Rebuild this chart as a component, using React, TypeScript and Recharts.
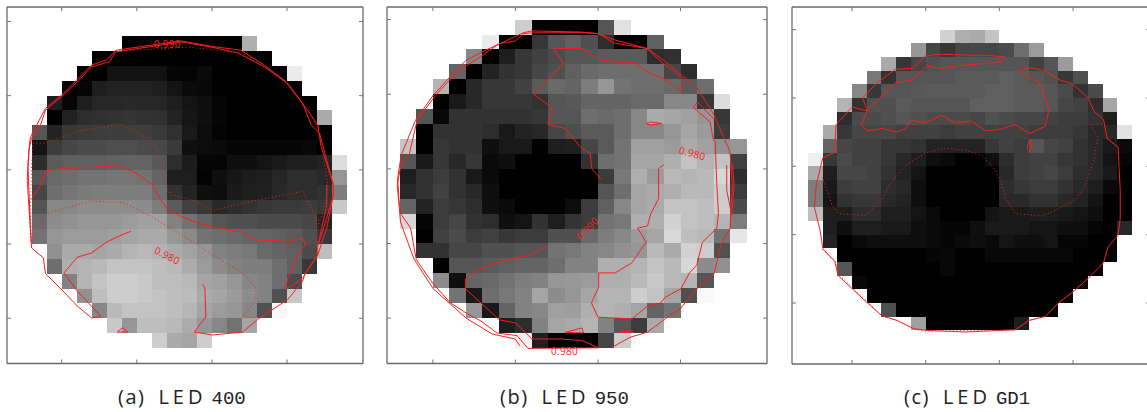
import React from 'react';
import { ScatterChart, Scatter, XAxis, YAxis } from 'recharts';

type Pt = number[];

// gray level per wafer site, row by row, with the first occupied column of each row
const LED400_START = [6, 4, 3, 2, 1, 1, 0, 0, 0, 0, 0, 0, 0, 0, 1, 1, 2, 3, 4, 5, 8];
const LED400_GRAY = [
  [0, 0, 0, 0, 0, 0, 0, 0, 175],
  [0, 0, 0, 0, 0, 0, 0, 0, 0, 0, 0, 0],
  [0, 0, 18, 18, 18, 18, 5, 3, 10, 0, 0, 0, 0, 0, 235],
  [0, 5, 30, 35, 35, 35, 30, 20, 10, 8, 0, 0, 0, 0, 0, 0],
  [30, 5, 30, 38, 38, 40, 40, 38, 30, 20, 15, 5, 0, 0, 0, 0, 0, 0],
  [0, 33, 45, 48, 50, 52, 50, 48, 35, 22, 15, 5, 0, 0, 0, 0, 0, 0, 170],
  [85, 35, 55, 58, 60, 62, 62, 62, 58, 48, 25, 12, 3, 0, 0, 0, 0, 0, 0, 0],
  [20, 60, 70, 75, 75, 78, 78, 75, 72, 58, 15, 12, 10, 5, 5, 5, 5, 5, 8, 0],
  [45, 90, 95, 95, 95, 98, 100, 98, 88, 45, 28, 5, 5, 15, 15, 20, 25, 30, 30, 35, 220],
  [85, 105, 110, 115, 115, 118, 118, 115, 100, 30, 30, 3, 15, 22, 28, 30, 38, 45, 45, 40, 150],
  [70, 110, 118, 122, 125, 125, 125, 125, 110, 50, 35, 15, 12, 25, 30, 32, 40, 45, 45, 50, 125],
  [85, 135, 135, 140, 140, 140, 140, 140, 125, 90, 65, 55, 40, 45, 50, 55, 58, 58, 60, 55, 200],
  [105, 140, 145, 150, 150, 150, 155, 160, 160, 130, 115, 100, 85, 80, 80, 75, 75, 75, 70, 35],
  [115, 150, 155, 155, 155, 160, 165, 170, 170, 150, 138, 115, 110, 105, 100, 100, 95, 90, 80, 55],
  [145, 170, 170, 165, 170, 180, 185, 180, 170, 162, 150, 130, 125, 120, 105, 100, 95, 75, 190],
  [110, 175, 180, 185, 195, 195, 195, 190, 185, 172, 155, 140, 130, 125, 125, 110, 95, 55],
  [130, 180, 195, 205, 205, 200, 190, 190, 185, 165, 160, 150, 135, 130, 110, 75],
  [145, 190, 205, 205, 200, 195, 190, 188, 170, 165, 155, 140, 130, 80, 200],
  [135, 185, 195, 195, 195, 190, 182, 165, 155, 150, 135, 80, 248],
  [200, 150, 190, 190, 185, 172, 150, 135, 115, 165],
  [205, 170, 165, 205],
];

const LED950_START = [7, 5, 4, 3, 2, 2, 1, 1, 0, 0, 0, 0, 0, 0, 1, 1, 2, 2, 3, 4, 6, 7];
const LED950_GRAY = [
  [205, 0, 0, 0, 0, 85, 225],
  [235, 0, 0, 55, 85, 95, 80, 45, 0, 0, 95],
  [135, 0, 30, 55, 65, 75, 85, 85, 90, 90, 90, 45, 48],
  [100, 0, 35, 50, 55, 70, 80, 95, 105, 110, 110, 110, 110, 70, 45],
  [180, 0, 40, 55, 55, 65, 90, 105, 100, 125, 150, 115, 110, 110, 105, 90, 110],
  [0, 25, 40, 55, 55, 55, 50, 85, 88, 100, 100, 100, 105, 105, 135, 135, 55, 220],
  [85, 8, 50, 50, 50, 50, 50, 55, 85, 85, 110, 105, 110, 135, 170, 165, 160, 150, 55],
  [0, 50, 50, 50, 45, 25, 35, 40, 70, 78, 90, 90, 110, 135, 135, 150, 165, 155, 60],
  [195, 0, 55, 50, 50, 15, 25, 25, 0, 30, 32, 70, 90, 115, 160, 160, 155, 170, 160, 145, 150],
  [85, 25, 55, 40, 55, 10, 15, 0, 0, 0, 0, 50, 110, 115, 165, 165, 175, 195, 180, 195, 65],
  [30, 50, 60, 50, 25, 10, 0, 0, 0, 0, 0, 0, 60, 120, 175, 155, 185, 180, 185, 215, 45],
  [40, 50, 65, 50, 40, 15, 0, 0, 0, 0, 0, 0, 85, 110, 165, 170, 175, 185, 185, 205, 60],
  [100, 35, 60, 55, 45, 15, 10, 0, 0, 0, 12, 60, 95, 135, 165, 170, 195, 195, 190, 205, 75],
  [215, 5, 60, 70, 50, 45, 15, 20, 50, 30, 52, 60, 115, 120, 175, 175, 210, 195, 190, 180, 125],
  [0, 65, 75, 60, 65, 55, 60, 60, 80, 80, 105, 125, 135, 155, 165, 215, 190, 185, 115, 230],
  [50, 50, 70, 70, 80, 80, 85, 85, 115, 120, 130, 135, 145, 150, 185, 170, 210, 205, 80],
  [0, 85, 85, 90, 95, 100, 100, 110, 130, 130, 175, 175, 180, 195, 185, 215, 140, 145],
  [140, 15, 100, 105, 115, 125, 130, 150, 152, 155, 175, 175, 185, 200, 185, 180, 85],
  [115, 25, 110, 120, 130, 165, 140, 150, 165, 180, 180, 205, 195, 165, 80, 250],
  [150, 25, 100, 130, 135, 160, 158, 175, 180, 175, 165, 100, 115],
  [30, 45, 130, 165, 170, 180, 130, 85, 60, 170],
  [240, 30, 0, 0, 0, 70, 205],
];

const LEDGD1_START = [9, 7, 5, 4, 3, 2, 2, 1, 1, 0, 0, 0, 0, 0, 1, 1, 2, 2, 3, 4, 5, 7];
const LEDGD1_GRAY = [
  [210, 175, 170, 195],
  [150, 70, 55, 70, 72, 70, 75, 110, 155],
  [170, 55, 70, 80, 85, 85, 85, 85, 85, 85, 65, 85, 155],
  [120, 50, 85, 85, 85, 85, 90, 90, 90, 95, 90, 85, 80, 55, 80],
  [135, 55, 85, 85, 88, 90, 90, 90, 90, 95, 95, 90, 90, 85, 75, 50, 75],
  [180, 50, 80, 80, 90, 85, 85, 85, 85, 95, 95, 95, 90, 90, 85, 70, 65, 45, 165],
  [45, 75, 75, 80, 85, 80, 75, 75, 75, 70, 80, 75, 70, 70, 65, 60, 60, 50, 30],
  [170, 55, 70, 70, 70, 65, 65, 65, 60, 65, 65, 65, 65, 65, 60, 60, 60, 55, 40, 40, 225],
  [100, 70, 65, 65, 55, 55, 50, 35, 35, 35, 35, 55, 65, 60, 85, 70, 65, 50, 40, 25, 10],
  [240, 55, 75, 65, 65, 55, 40, 30, 15, 10, 0, 0, 15, 45, 60, 65, 65, 55, 50, 40, 20, 5],
  [170, 30, 70, 70, 65, 50, 35, 20, 0, 0, 0, 0, 0, 40, 60, 65, 70, 60, 45, 40, 25, 0],
  [125, 25, 60, 65, 65, 45, 40, 15, 0, 0, 0, 0, 0, 45, 55, 60, 60, 50, 40, 30, 10, 0],
  [125, 20, 50, 55, 55, 40, 35, 15, 0, 0, 0, 0, 0, 40, 40, 50, 50, 40, 35, 20, 0, 0],
  [190, 30, 30, 45, 45, 30, 30, 20, 10, 0, 0, 0, 20, 25, 25, 30, 30, 25, 20, 15, 0, 0],
  [30, 15, 30, 30, 25, 25, 15, 10, 5, 5, 15, 25, 25, 25, 20, 20, 15, 15, 5, 0, 40],
  [35, 0, 10, 15, 15, 15, 15, 10, 5, 10, 15, 10, 20, 15, 15, 20, 5, 5, 0, 0],
  [0, 0, 0, 0, 0, 0, 5, 8, 0, 0, 8, 8, 8, 8, 8, 8, 0, 0, 0],
  [85, 0, 0, 0, 0, 0, 0, 8, 0, 0, 0, 0, 0, 0, 0, 0, 0, 0],
  [8, 0, 0, 0, 0, 0, 0, 0, 0, 0, 0, 0, 0, 0, 0, 0],
  [0, 0, 0, 0, 0, 0, 0, 0, 0, 0, 0, 0, 0, 0],
  [80, 0, 0, 0, 0, 0, 0, 0, 0, 0, 0, 0],
  [160, 0, 0, 0, 0, 0, 0, 30],
];

// contour polylines, in column/row units of the grids above
const LED400_SOLID: Pt[][] = [
  [[0, 11], [0.6, 10], [0.98, 9.06], [2.04, 8.93], [5.93, 8.72], [7.04, 9.28], [8.04, 10.02], [8.38, 10.67], [9.04, 11.68], [9.93, 12.13], [11.04, 12.58], [12.04, 12.85], [14.04, 13.2], [15.04, 13.81], [16.04, 13.74], [17.04, 13.86], [18.04, 13.59], [18.2, 14.04], [17.6, 14.93], [17.38, 15.6], [17.04, 16.39], [16.82, 16.95], [17.04, 17], [18.04, 16.28], [19.04, 14.75], [19.04, 14.15], [19.64, 11.35], [19.64, 10]],
  [[6.6, 13.14], [5.93, 13.41], [5, 13.86], [4, 14.6], [3.04, 14.89], [2.16, 15.94], [3.04, 17.17], [3.98, 18.18], [4.64, 18.9], [3.98, 18.97], [3.04, 18.18], [1.89, 16.95], [0.93, 16], [0.78, 14.93], [0, 14.26], [-0.07, 12.91], [-0.18, 10.2], [-0.24, 8.77], [-0.11, 6.98], [0, 6.64], [0.93, 4.85], [2, 3.96], [3, 2.95], [3.98, 1.95], [5.04, 1.57], [5.6, 0.94], [8.22, 0.56], [9.93, 0.31], [11.93, 0.67], [13.93, 0.94], [15.49, 1.95], [16.93, 3.06], [18.27, 4.85], [19.04, 5.97], [19.27, 7.43], [20.04, 9.89], [20.09, 10.67], [19.64, 12.24], [19.04, 14.15]],
  [[11.38, 16.73], [11.53, 16.95], [11.6, 18.92], [10.82, 19.93], [12.04, 20.13], [14.04, 19.93], [15.04, 19.08], [17.04, 17.74], [18.04, 16.5], [18.2, 15.94], [19.04, 14.75], [19.64, 12.91], [20.04, 10.9], [20.09, 10], [19.93, 9.44], [19.16, 6.53], [18.6, 5.97], [18.04, 4.52], [17.04, 3.18], [15.49, 2.06], [13.71, 1.12], [11.93, 0.72], [10, 0.38], [8.22, 0.65], [5.6, 1.05], [5.16, 1.72], [3.98, 2.06], [3, 3.13], [2, 4.07], [0.93, 4.97], [0.6, 5.97], [0, 6.87], [-0.18, 7.65], [-0.29, 9.66], [-0.02, 13.92]],
  [[5.71, 19.93], [6.04, 19.64], [6.42, 19.93], [5.71, 19.93]],
];
const LED400_DOTTED: Pt[][] = [
  [[-0.02, 13.81], [-0.07, 11.35], [0, 8.77], [0.1, 7.2], [0.93, 7.2], [3.04, 6.42], [5.93, 5.91], [8.04, 7.09], [8.93, 8.99], [8.82, 10], [9.27, 10.67], [10.6, 11], [12.16, 11.73], [14.04, 11.23], [18.04, 10.45], [18.93, 12.24], [19.04, 14.71]],
  [[0, 14.15], [0.27, 13.36], [0.93, 11.95], [4.04, 11.08], [6.16, 11.23], [7.93, 12.13], [9.93, 13.36], [12.04, 14.71], [14.04, 15.94], [14.93, 16.95], [14.93, 17.74], [14.04, 18.9], [15.04, 19]],
  [[12.6, 19.93], [13.04, 19.6], [13.6, 19.93]],
  [[5.6, 0.98], [8.16, 0.87], [10.38, 0.72], [14, 1.12], [15.49, 2.06], [17, 3.2], [18.3, 5], [19.04, 6.1], [19.7, 9.9], [19.7, 10.6], [19.04, 12.9]],
];
const LED400_LABELS = [
  { c: 9.03, r: 0.54, text: '0.990', angle: 0 },
  { c: 9.03, r: 14.76, text: '0.980', angle: 27 },
];

const LED950_SOLID: Pt[][] = [
  [[12.18, 10.69], [11.63, 9.98], [11.53, 8.97], [10.93, 8.53], [10.02, 7.3], [8.97, 7.01], [9.21, 5.89], [8.1, 5], [9.92, 2.95], [9.31, 1.94], [11.03, 1.94], [12.04, 2.68], [13.04, 2.83], [14.25, 2.88], [14.96, 3.5], [16.07, 4], [17.02, 4.78], [17.14, 3.95], [15.97, 2.95], [14.96, 1.94], [12.94, 1.56], [12.04, 0.94], [10.93, 0.87], [8, 0.89], [7.5, 0.94], [7, 1.43], [6.03, 1.61], [5.28, 2.17], [4.88, 2.5], [4.01, 3.1], [3, 4.06], [2.16, 5.07], [1.05, 6.74], [0.58, 8.97], [0.04, 9.87], [-0.12, 10.87], [-0.06, 12], [0.04, 13], [0.65, 13.95], [0.99, 16.07], [1.55, 16.97], [2.02, 17.7], [3.06, 18.98], [4.11, 19.72], [4.88, 20.17], [5.89, 21], [7.1, 21.17], [7.76, 22.03], [12.04, 21.99], [11.03, 21.5], [9.72, 21.4], [8, 21.4], [7, 20.32], [6.03, 20.12], [3.97, 18.04], [3.97, 17.37], [4.98, 16.65], [6.09, 16.2], [8, 15.74], [8.91, 15.13]],
  [[12.84, 21.96], [13.95, 21.28], [15, 20.94], [16.07, 20.05], [16.98, 19.38], [17.98, 18.04], [19.03, 17.03], [19.46, 15.02], [20, 14.01], [20.14, 11.1], [20, 8.86], [18.99, 6.29], [17.98, 4.55], [15.97, 2.72], [15, 1.94], [12.94, 1.34], [12.04, 0.94], [10.93, 0.83], [8, 0.76], [7.5, 0.87], [5.28, 2.01], [4.01, 2.72], [3, 3.88], [2.02, 5.07], [0.95, 6.74], [0.08, 9.08], [-0.12, 10.54], [-0.16, 11.1], [0.04, 13.57], [0.85, 16.03], [2.02, 18.04], [4.03, 20.01], [5.58, 21.06], [6.99, 21.4], [7.26, 21.85]],
  [[16, 9.71], [15.67, 9.98], [15.67, 12], [15.2, 13], [15, 13.83], [14.4, 13.97], [14.92, 14.91], [14.05, 16.3], [13.04, 16.97], [12.04, 16.97], [12.04, 17.93], [11.6, 18.98], [12, 19.94], [14.05, 20.05], [15, 19.2], [15.8, 18.98], [16.07, 18.6], [17.02, 18.04], [17.54, 16.97], [17.98, 16.47], [18.33, 14.91], [19.2, 13.97], [19.3, 12.98], [19.2, 11.1], [19.1, 8.19], [19, 8.08], [18.79, 6.85], [17.78, 5.89], [18.02, 5.51], [18.99, 6.63]],
  [[14.92, 6.96], [15.17, 6.85], [15.88, 6.96], [15.17, 7.07], [14.92, 6.96]],
  [[10.02, 20.95], [11.03, 20.66], [11.13, 20.99], [10.02, 20.95]],
  [[13.25, 20.95], [13.95, 20.79], [14.15, 20.95], [13.25, 20.95]],
  [[19.8, 9.75], [19.8, 11.43], [20.1, 13.1], [20.25, 11.1], [20.15, 9.75]],
];
const LED950_LABELS = [
  { c: 17.72, r: 8.95, text: '0.980', angle: 15 },
  { c: 11.35, r: 13.98, text: '0.990', angle: -45 },
  { c: 9.97, r: 22.2, text: '0.980', angle: 0 },
];

const LEDGD1_SOLID: Pt[][] = [
  [[21.05, 8.59], [21.2, 11.76], [21.2, 13.83], [21.05, 15.05], [20.37, 15.9], [20.07, 17.05], [19.01, 18.22], [18.04, 19.15], [17.03, 19.98], [16.12, 20.98], [15, 21.27], [14.09, 21.95], [10.7, 22.12], [8.05, 22], [7.19, 21.88], [6.06, 21.27], [5.05, 20.95], [3.98, 19.93], [3.01, 18.95], [2.06, 17.98], [1.83, 16.95], [1.02, 16.02], [0.86, 14.8], [0.45, 12.98], [0.57, 11.39], [1.02, 9.37], [1.81, 9], [1.92, 6.95], [3.01, 5.66], [4.03, 5.95], [3.73, 5], [4.64, 3.95], [5.95, 2.9], [7.08, 2.85], [7.99, 1.93], [8.89, 1.8], [11.38, 1.88], [12.17, 1.88], [13.37, 2], [13.08, 2.37], [11.84, 2.49], [10.02, 2.66], [9, 2.85], [8.1, 2.66], [7.08, 3.66], [5.95, 3.9], [4.03, 5.9], [3.64, 7], [4.03, 7.41], [5.05, 7.24], [6.06, 7.49], [6.63, 7.24], [6.97, 6.63], [7.99, 6.83], [9.05, 6.27], [10.02, 6.83], [11.05, 6.68], [12.06, 7.41], [13.08, 7.29], [14.05, 6.95], [15.06, 7.61], [16.12, 7.05], [16.35, 5.9], [16.12, 4.93], [15.67, 3.83], [15, 3.51], [14.32, 2.98], [15.11, 2.8], [16.01, 2.98], [17.14, 3.71], [17.93, 3.95], [19.01, 4.98], [19.4, 5.95], [20.07, 6.59], [20.3, 7.93], [21.05, 8.59]],
  [[15.06, 8.0], [15.2, 8.56], [15.06, 8.95], [14.88, 8.66], [15.06, 8.0]],
];
const LEDGD1_DOTTED: Pt[][] = [
  [[0.97, 10.78], [1.31, 11.76], [1.65, 12.85], [2.1, 13.46], [3.91, 13.59], [5.05, 12.37], [5.5, 11.39], [6.63, 9.93], [7.99, 9.02], [9.34, 8.66], [10.7, 8.83], [11.84, 9.2], [12.74, 10.29], [13.3, 11.76], [13.42, 12.37], [14.09, 13.46], [15.9, 13.63], [17.03, 13.1], [18.16, 12.41], [18.83, 11.39], [19.4, 9.56], [19.69, 7.85], [19.17, 7], [20.07, 6.88]],
  [[1, 16.1], [1.9, 17], [2.2, 18], [3.1, 18.95], [4.1, 19.95], [5.1, 21], [6.1, 21.3], [7.3, 21.95], [8.1, 22.05], [14.1, 22], [15, 21.3], [16.1, 21], [17, 20], [18, 19.15], [19, 18.2]],
  [[20.3, 8], [21, 8.6]],
];

const RED = '#f52020';
const CELL_TICKS = [5, 10, 15, 20, 25];

const buildCells = (start: number[], gray: number[][], ox: number, oy: number) =>
  gray.flatMap((row, r) =>
    row.map((level, i) => ({ x: start[r] + i + ox + 0.5, y: r + oy + 0.5, level })),
  );

const GridCell = ({ cx, cy, payload, w, h }: any) => {
  const g = payload.level;
  return (
    <rect
      x={cx - w / 2}
      y={cy - h / 2}
      width={w}
      height={h}
      fill={`rgb(${g},${g},${g})`}
      shapeRendering="crispEdges"
    />
  );
};

const ContourLabel = ({ cx, cy, payload }: any) => (
  <text
    x={cx}
    y={cy}
    fill={RED}
    fontSize={10}
    letterSpacing={0.3}
    fontFamily="Open Sans, sans-serif"
    textAnchor="middle"
    dominantBaseline="central"
    transform={`rotate(${payload.angle} ${cx} ${cy})`}
  >
    {payload.text}
  </text>
);

const noDot = () => <g />;
const noText = () => '';

const WaferPanel = ({ left, top, width, height, xDomain, yDomain, ox, oy, start, gray, solid, dotted = [], labels = [] }: any) => {
  const cellW = width / (xDomain[1] - xDomain[0]);
  const cellH = height / (yDomain[1] - yDomain[0]);
  const toData = (pts: Pt[]) => pts.map(([c, r]) => ({ x: c + ox, y: r + oy }));
  const frame = { stroke: '#6a6a6a', strokeWidth: 1.3 };
  const tick = { stroke: '#777', strokeWidth: 1 };
  const xTicks = CELL_TICKS.filter((t) => t < 21);
  const axisStyle = { tickFormatter: noText, tickSize: 4, interval: 0 as const, axisLine: frame, tickLine: tick, mirror: true, allowDataOverflow: true };
  return (
    <div style={{ position: 'absolute', left: left - 1, top: top - 1 }}>
      <ScatterChart width={width + 2} height={height + 2} margin={{ top: 1, right: 1, bottom: 1, left: 1 }}>
        <XAxis xAxisId="b" dataKey="x" type="number" domain={xDomain} ticks={xTicks} orientation="bottom" height={1} {...axisStyle} />
        <XAxis xAxisId="t" dataKey="x" type="number" domain={xDomain} ticks={xTicks} orientation="top" height={1} {...axisStyle} />
        <YAxis yAxisId="l" dataKey="y" type="number" domain={yDomain} ticks={CELL_TICKS} orientation="left" width={1} reversed {...axisStyle} />
        <YAxis yAxisId="r" dataKey="y" type="number" domain={yDomain} ticks={CELL_TICKS} orientation="right" width={1} reversed {...axisStyle} />
        <Scatter
          xAxisId="b"
          yAxisId="l"
          data={buildCells(start, gray, ox, oy)}
          isAnimationActive={false}
          shape={(p: any) => <GridCell {...p} w={cellW} h={cellH} />}
        />
        {solid.map((pts: Pt[], i: number) => (
          <Scatter key={`s${i}`} xAxisId="b" yAxisId="l" data={toData(pts)} isAnimationActive={false} shape={noDot} line={{ stroke: RED, strokeWidth: 1, fill: 'none' }} />
        ))}
        {dotted.map((pts: Pt[], i: number) => (
          <Scatter key={`d${i}`} xAxisId="b" yAxisId="l" data={toData(pts)} isAnimationActive={false} shape={noDot} line={{ stroke: RED, strokeWidth: 1, strokeDasharray: '1 2.5', fill: 'none' }} />
        ))}
        {labels.length > 0 && (
          <Scatter
            xAxisId="b"
            yAxisId="l"
            data={labels.map((l: any) => ({ ...l, x: l.c + ox, y: l.r + oy }))}
            isAnimationActive={false}
            shape={(p: any) => <ContourLabel {...p} />}
          />
        )}
      </ScatterChart>
    </div>
  );
};

const Caption = ({ left, tag, mono, name }: any) => (
  <div style={{ position: 'absolute', left, top: 383, lineHeight: '27px', fontFamily: 'Open Sans, sans-serif', fontSize: 20, color: '#222', whiteSpace: 'pre' }}>
    <span style={{ letterSpacing: 1.5 }}>{tag}</span>
    <span style={{ marginLeft: 13, letterSpacing: 4 }}>{name}</span>
    <span style={{ marginLeft: 5, fontFamily: 'Liberation Mono, monospace', fontSize: 19 }}>{mono}</span>
  </div>
);

export default function App() {
  return (
    <div style={{ position: 'absolute', left: 0, top: 0, width: 1147, height: 412, overflow: 'hidden', background: '#fff' }}>
      <WaferPanel
        left={7}
        top={7}
        width={356}
        height={356.5}
        xDomain={[1.367, 25.05]}
        yDomain={[4.026, 28.05]}
        ox={3}
        oy={6}
        start={LED400_START}
        gray={LED400_GRAY}
        solid={LED400_SOLID}
        dotted={LED400_DOTTED}
        labels={LED400_LABELS}
      />
      <WaferPanel
        left={387}
        top={7}
        width={380}
        height={356.5}
        xDomain={[2.22, 25.24]}
        yDomain={[4.156, 28.04]}
        ox={3}
        oy={5}
        start={LED950_START}
        gray={LED950_GRAY}
        solid={LED950_SOLID}
        labels={LED950_LABELS}
      />
      <WaferPanel
        left={792}
        top={7}
        width={358}
        height={357}
        xDomain={[0.93, 25.22]}
        yDomain={[3.347, 29.46]}
        ox={2}
        oy={5}
        start={LEDGD1_START}
        gray={LEDGD1_GRAY}
        solid={LEDGD1_SOLID}
        dotted={LEDGD1_DOTTED}
      />
      <Caption left={118} tag="(a)" name="LED" mono="400" />
      <Caption left={500} tag="(b)" name="LED" mono="950" />
      <Caption left={904} tag="(c)" name="LED" mono="GD1" />
    </div>
  );
}
